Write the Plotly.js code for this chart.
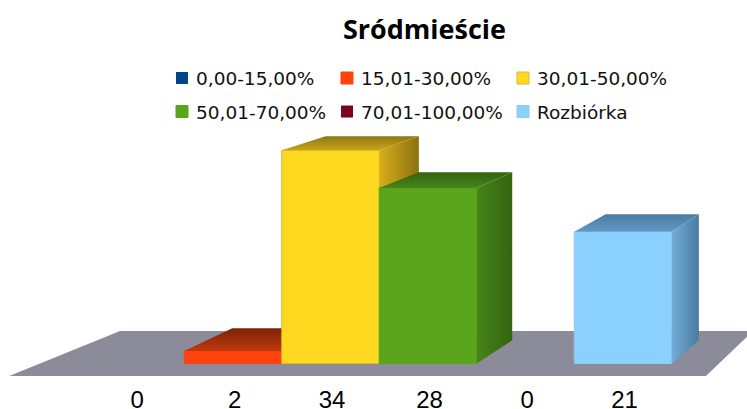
<!DOCTYPE html>
<html>
<head>
<meta charset="utf-8">
<script src="https://cdn.plot.ly/plotly-3.0.0.min.js"></script>
<style>html,body{margin:0;padding:0;background:#fff;overflow:hidden}</style>
</head>
<body>
<div id="chart" style="width:747px;height:409px"></div>
<script>
const seriesNames = ["0,00-15,00%","15,01-30,00%","30,01-50,00%","50,01-70,00%","70,01-100,00%","Rozbiórka"];
const seriesValues = [0,2,34,28,0,21];
const frontColors = ["#004586","#ff420e","#ffd920","#5aa51c","#7e0021","#8bd1ff"];
const edgeColors = ["#004586","#ff420e","#d8bc28","#5aa51c","#7e0021","#93c8ea"];
const topShades = [null,["#7c2306","#c03a0c"],["#8c7812","#c8a41a"],["#33630f","#46851a"],null,["#4b7da3","#6098c6"]];
const sideShades = [null,["#c03a0c","#7c2306"],["#d8ae18","#8a7210"],["#47851a","#33630f"],null,["#72acd8","#4a7ca0"]];
const layerOf = ["y2","y2","y3","y4","y2","y5"];
const legendX = [176,341,517,176,341,517];
const legendY = [78.5,78.5,78.5,112,112,112];
const floorX = [-1.297,-0.159,6.333,5.85];
const floorV = [-2,5.18,5.18,-2];
const tickNudge = 0.016;

const backX = i => i + 0.492 - 0.0427*(i-0.5);
const backV = v => v*0.957 + 3.7;

const traces = [{
  type:"scatter", x:floorX, y:floorV, fill:"toself", fillcolor:"#8c8b99",
  mode:"lines", line:{width:0}, showlegend:false, hoverinfo:"skip", xaxis:"x", yaxis:"y"
}];

seriesValues.forEach((v,i)=>{
  const axis = layerOf[i];
  const l = i-0.5, r = i+0.5;
  if (v>0) {
    traces.push({
      type:"scatter", x:[r,r,backX(r),backX(r)], y:[0,v,backV(v),backV(0)], fill:"toself",
      fillgradient:{type:"horizontal",colorscale:[[0,sideShades[i][0]],[1,sideShades[i][1]]]},
      mode:"lines", line:{width:0}, showlegend:false, hoverinfo:"skip", xaxis:"x", yaxis:axis
    });
    traces.push({
      type:"scatter", x:[l,r,backX(r),backX(l)], y:[v,v,backV(v),backV(v)], fill:"toself",
      fillgradient:{type:"vertical",colorscale:[[0,topShades[i][1]],[1,topShades[i][0]]]},
      mode:"lines", line:{width:0}, showlegend:false, hoverinfo:"skip", xaxis:"x", yaxis:axis
    });
  }
  traces.push({
    type:"bar", x:[i], y:[v], width:[1], name:seriesNames[i],
    marker:{color:frontColors[i], line:{color:edgeColors[i],width:v>0?1:0}},
    xaxis:"x", yaxis:axis, legend: i===0?"legend":"legend"+(i+1), hoverinfo:"skip"
  });
});

const yRange = [-1.99,57.97];
const overlayAxis = {type:"linear", autorange:false, range:yRange, visible:false, overlaying:"y", fixedrange:true};
const layout = {
  width:747, height:409, margin:{l:0,r:0,t:0,b:33,pad:0,autoexpand:false},
  paper_bgcolor:"#fff", plot_bgcolor:"rgba(0,0,0,0)", barmode:"overlay",
  title:{text:"Sródmieście", x:424.5/747, xanchor:"center", xref:"container",
         y:1-30/409, yanchor:"middle", yref:"container",
         font:{family:"Open Sans",size:27,weight:700,color:"#000"}},
  xaxis:{type:"linear", autorange:false, range:[-1.39,6.272], tickmode:"array", tickvals:seriesValues.map((_,i)=>i+tickNudge), ticktext:seriesValues.map(String),
         showgrid:false, zeroline:false, showline:false, ticks:"outside", ticklen:2, tickcolor:"rgba(0,0,0,0)",
         tickfont:{family:"Liberation Sans",size:24,color:"#000"}, tickangle:0, fixedrange:true},
  yaxis:{type:"linear", autorange:false, range:yRange, visible:false, fixedrange:true},
  yaxis2:overlayAxis, yaxis3:overlayAxis, yaxis4:overlayAxis, yaxis5:overlayAxis
};
seriesNames.forEach((_,i)=>{
  layout[i===0?"legend":"legend"+(i+1)] = {
    xref:"paper", yref:"paper", x:(legendX[i]-8)/747, y:(376-legendY[i])/376,
    xanchor:"left", yanchor:"middle", bgcolor:"rgba(0,0,0,0)", borderwidth:0,
    indentation:-12, font:{family:"DejaVu Sans",size:18.5,color:"#111"}
  };
});
Plotly.newPlot("chart",traces,layout,{displayModeBar:false,staticPlot:true}).then(()=>{
  document.querySelectorAll(".legendsymbols").forEach(g=>g.setAttribute("transform","translate(6,0)"));
});
</script>
</body>
</html>
